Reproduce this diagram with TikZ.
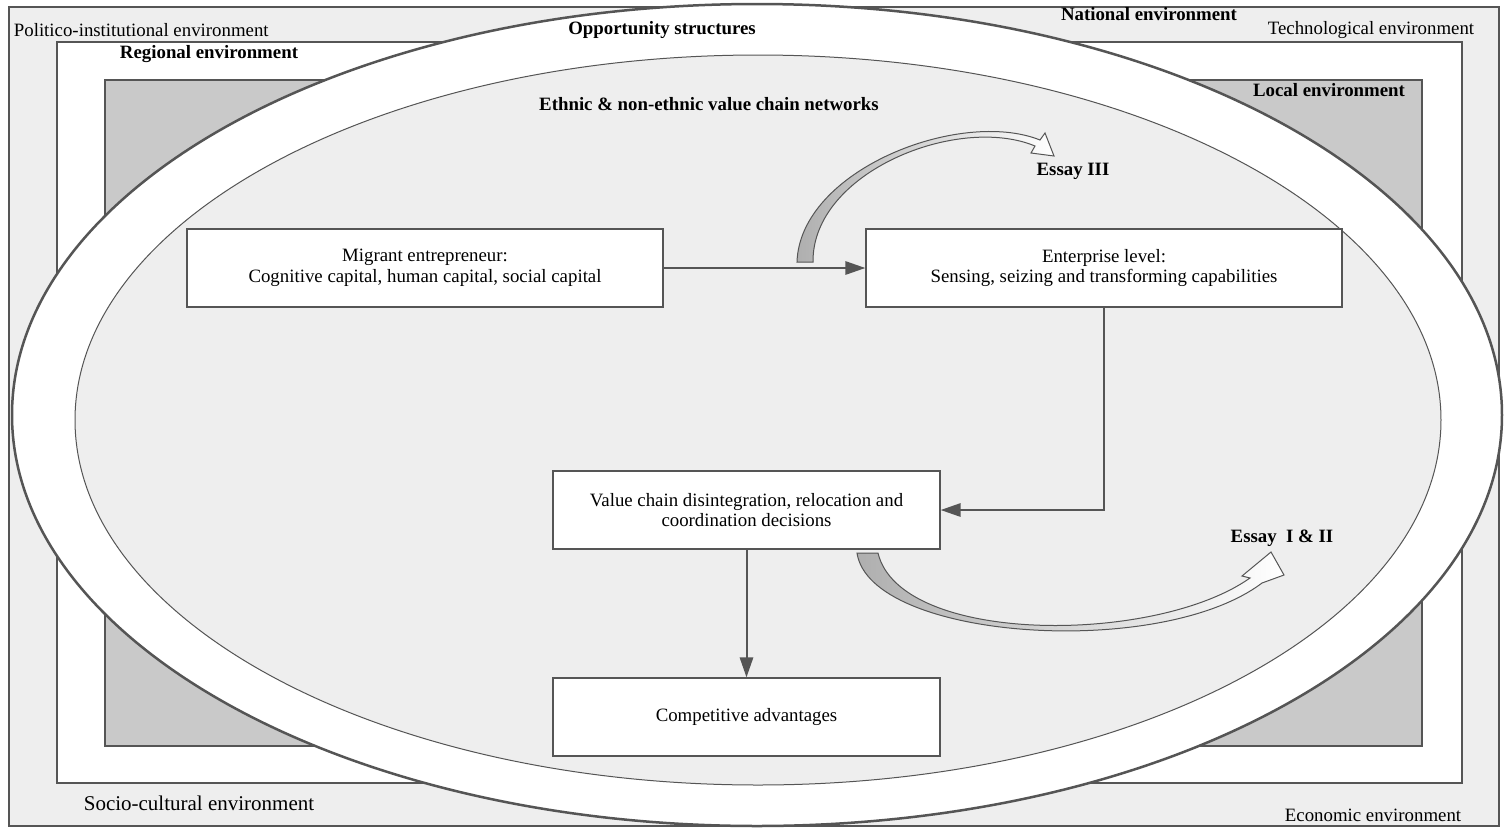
\documentclass[tikz,border=0pt]{standalone}
\usepackage{fontspec}
\setmainfont{Liberation Serif}
\usetikzlibrary{arrows.meta,positioning}
\definecolor{linegray}{HTML}{555555}
\definecolor{palegray}{HTML}{EEEEEE}
\definecolor{midgray}{HTML}{C9C9C9}
\definecolor{tailgray}{HTML}{AFAFAF}
\tikzset{box/.style={draw=linegray,fill=white,line width=0.8pt,minimum width=285.6pt,minimum height=46.8pt,align=center,inner sep=2pt},
  flow/.style={draw=linegray,line width=1.2pt,-{Triangle[length=12pt,width=8pt]}},
  bent/.style={draw=linegray,line width=0.6pt,left color=tailgray,right color=white},
  heading/.style={font=\fontsize{11.3}{13}\selectfont\bfseries}}
\begin{document}
\begin{tikzpicture}[x=0.6pt,y=-0.6pt,font=\fontsize{11.3}{12.3}\selectfont]
  \useasboundingbox (0,0) rectangle (1504,829);
  % nested environments
  \draw[linegray,fill=palegray,line width=1.2pt] (9,7) rectangle (1499,826);
  \draw[linegray,fill=white,line width=1.2pt] (57,42) rectangle (1462,783);
  \draw[linegray,fill=midgray,line width=1.2pt] (105,80) rectangle (1422,746);
  \draw[linegray,fill=white,line width=1.5pt] (757,415) ellipse [x radius=447pt,y radius=246.6pt];
  \draw[linegray,fill=palegray,line width=0.6pt] (758,420) ellipse [x radius=409.8pt,y radius=219pt];
  \node[anchor=west] (polit) at (8,30) {Politico-institutional environment};
  \node[heading] (regio) at (209,54) {Regional environment};
  \node[heading] (oppor) at (662,30) {Opportunity structures};
  \node[heading] (natio) at (1149,14) {National environment};
  \node (techn) at (1371,30) {Technological environment};
  \node[heading] (local) at (1329,90) {Local environment};
  \node[heading] (netw) at (709,104) {Ethnic \& non-ethnic value chain networks};
  \node[font=\fontsize{12.6}{14}\selectfont] (socio) at (199,803) {Socio-cultural environment};
  \node (econ) at (1373,815) {Economic environment};
  % boxes
  \node[box] (migr) at (425,268) {Migrant entrepreneur:\\Cognitive capital, human capital, social capital};
  \node[box] (entr) at (1104,268) {Enterprise level:\\Sensing, seizing and transforming capabilities};
  \node[box,minimum width=232.2pt] (vcd) at (746.5,510) {Value chain disintegration, relocation and\\coordination decisions};
  \node[box,minimum width=232.2pt] (comp) at (746.5,717) {Competitive advantages};
  \draw[flow] (migr) -- (entr);
  \draw[flow] (entr.south) |- (vcd.east);
  \draw[flow] (vcd) -- (comp);
  % curved block arrows
  \draw[bent] (797,262) .. controls (800,170) and (960,108) .. (1040,140) -- (1045,133) -- (1054,156) -- (1031,153) -- (1035,146) .. controls (958,114) and (812,172) .. (813,262) -- cycle;
  \draw[bent] (857,553) .. controls (870,640) and (1160,660) .. (1262,583) -- (1284,575) -- (1271,552) -- (1242,576) -- (1250,578) .. controls (1155,645) and (900,645) .. (878,553) -- cycle;
  \node[heading] (ess3) at (1073,171) {Essay III};
  \node[heading] (ess12) at (1282,538) {Essay~ I \& II};
\end{tikzpicture}
\end{document}
